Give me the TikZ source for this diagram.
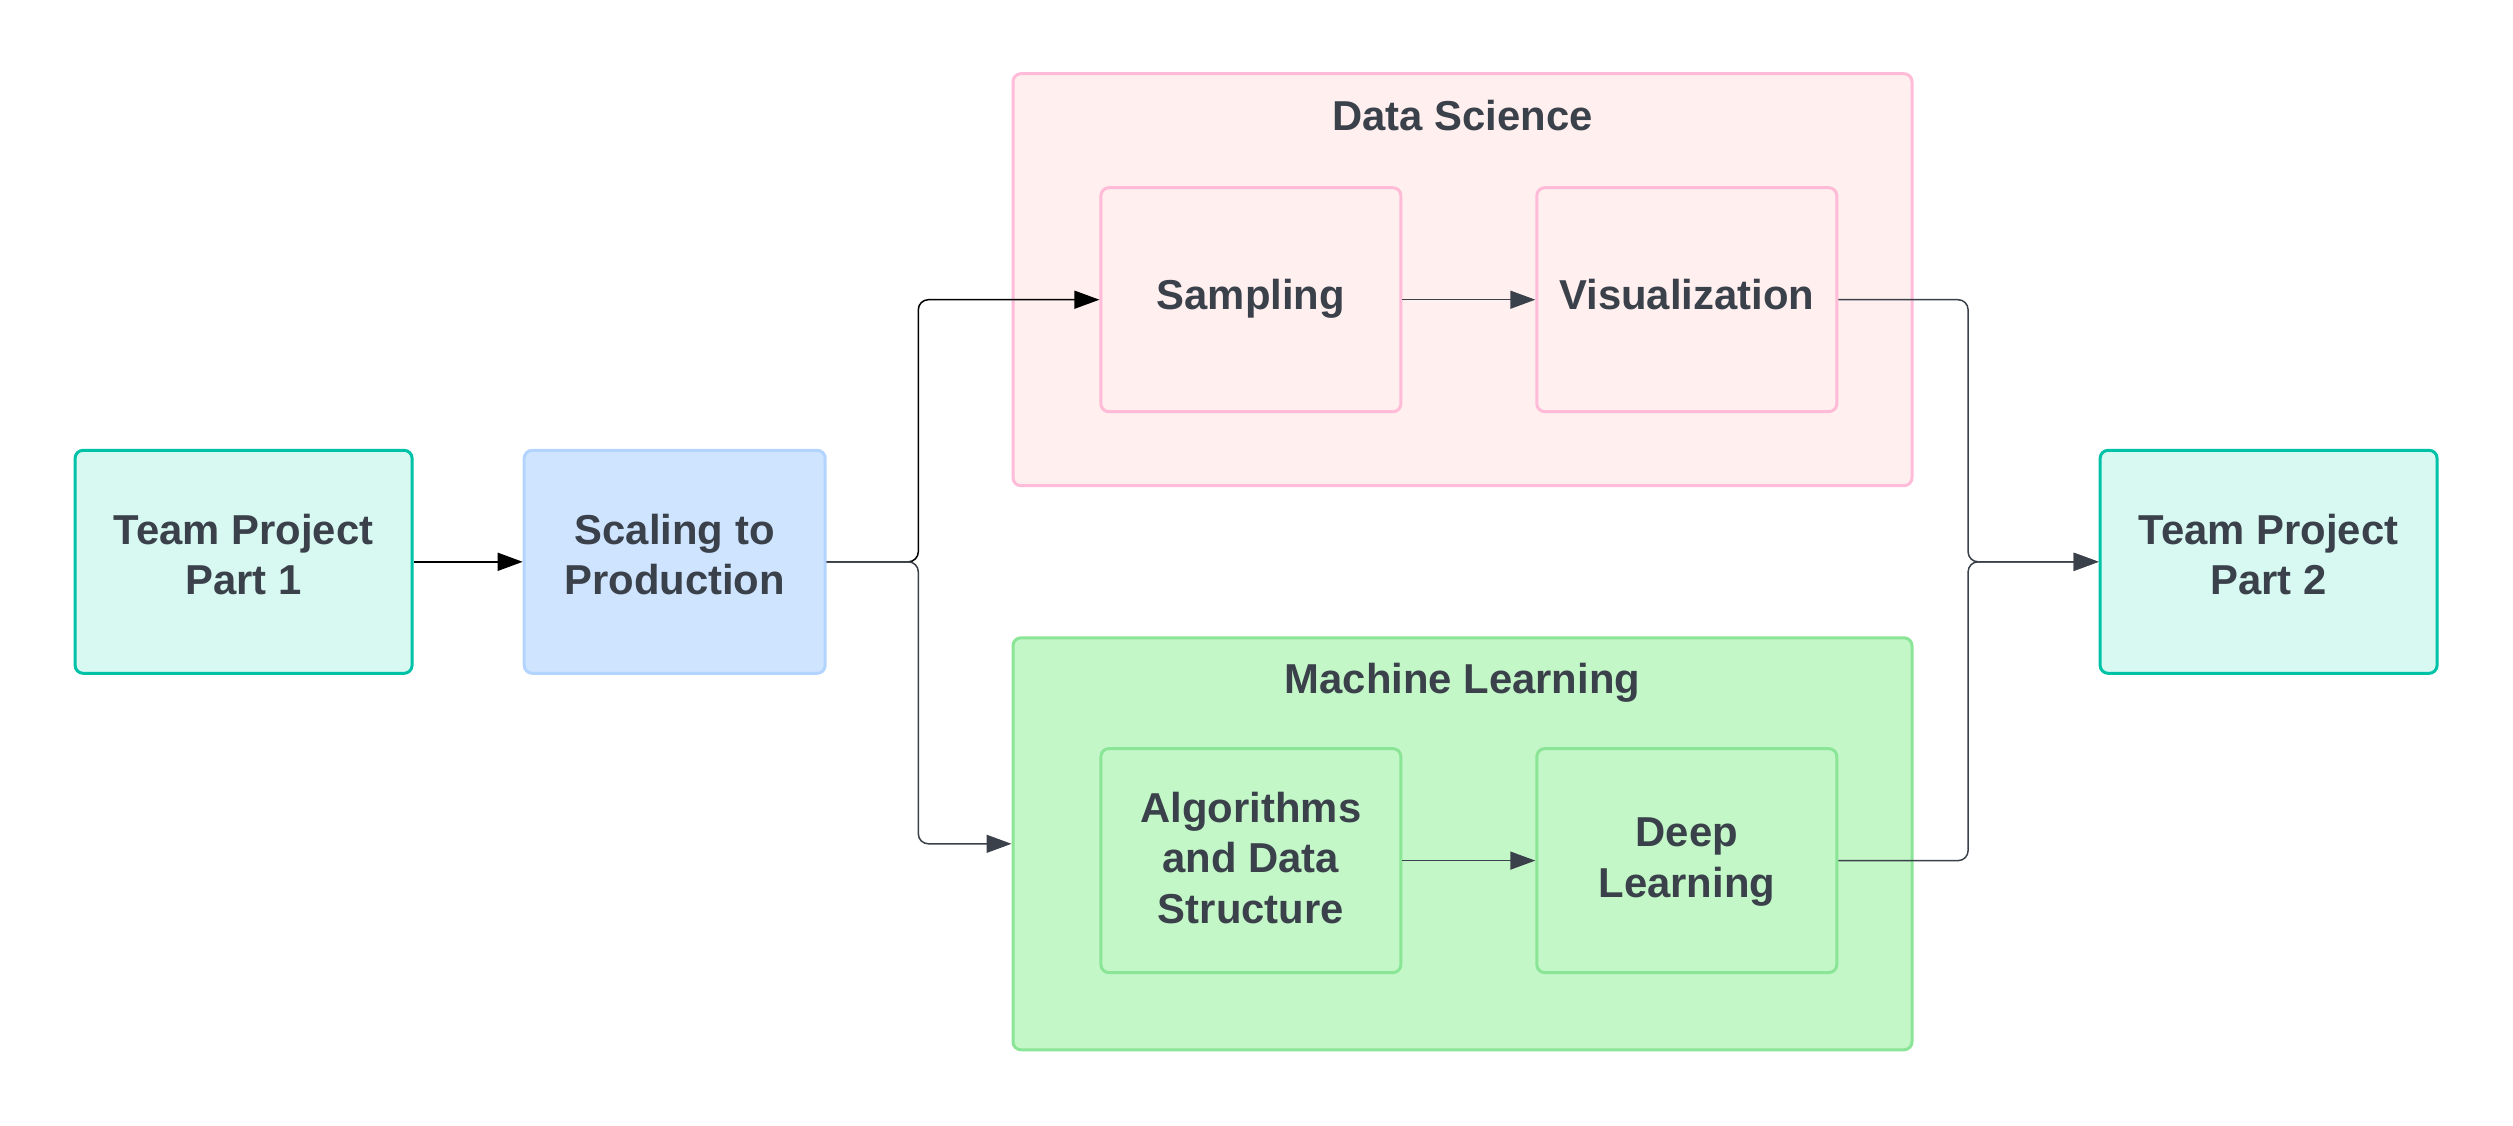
\documentclass[tikz,border=0pt]{standalone}
\usepackage{fontspec}
\setmainfont{Liberation Sans}
\usetikzlibrary{arrows.meta}
\definecolor{ink}{HTML}{3A414A}
\definecolor{tealfill}{HTML}{D7F9F2}
\definecolor{tealline}{HTML}{00C2A6}
\definecolor{bluefill}{HTML}{CFE4FF}
\definecolor{blueline}{HTML}{B2D4FF}
\definecolor{pinkfill}{HTML}{FFEFEF}
\definecolor{pinkline}{HTML}{FFBBD7}
\definecolor{greenfill}{HTML}{C3F7C8}
\definecolor{greenline}{HTML}{8BE596}
\begin{document}
\begin{tikzpicture}
  [box/.style={draw, rounded corners=0.08cm, line width=0.03cm, align=center, inner sep=0pt,
               text=ink, font=\fontsize{11.9}{14.4}\selectfont\bfseries,
               execute at begin node=\strut, execute at end node=\strut},
   team/.style={box, fill=tealfill, draw=tealline, minimum width=3.37cm, minimum height=2.23cm},
   scaling/.style={box, fill=bluefill, draw=blueline, minimum width=3.01cm, minimum height=2.23cm},
   dsgroup/.style={box, fill=pinkfill, draw=pinkline, minimum width=8.99cm, minimum height=4.12cm},
   mlgroup/.style={box, fill=greenfill, draw=greenline, minimum width=8.99cm, minimum height=4.12cm},
   dstopic/.style={box, fill=pinkfill, draw=pinkline, minimum width=3.0cm, minimum height=2.24cm},
   mltopic/.style={box, fill=greenfill, draw=greenline, minimum width=3.0cm, minimum height=2.24cm,
                   text depth=0.06cm},
   title/.style={text=ink, font=\fontsize{11.9}{14.4}\selectfont\bfseries, inner sep=0pt,
                 execute at begin node=\strut},
   link/.style={draw=ink, line width=0.015cm, rounded corners=0.1cm,
                -{Triangle[length=0.25cm, width=0.18cm]}}]
  \useasboundingbox (0,0) rectangle (25.13,-11.25);

  % groups
  \node[dsgroup] (ds) at (14.625,-2.797) {};
  \node[title] (dstitle) at (14.625,-1.20) {Data Science};
  \node[mlgroup] (ml) at (14.625,-8.438) {};
  \node[title] (mltitle) at (14.625,-6.83) {Machine Learning};

  % boxes
  \node[team] (part1) at (2.436,-5.618) {Team Project\\Part 1};
  \node[scaling] (scale) at (6.747,-5.618) {Scaling to\\Production};
  \node[dstopic] (samp) at (12.509,-2.997) {Sampling};
  \node[dstopic] (vis) at (16.868,-2.997) {Visualization};
  \node[mltopic] (algo) at (12.509,-8.606) {\raisebox{0pt}[\height][0pt]{}\vspace{-0.05cm}Algorithms\\and Data\\Structure};
  \node[mltopic] (deep) at (16.868,-8.606) {Deep\\Learning};
  \node[team] (part2) at (22.686,-5.618) {Team Project\\Part 2};

  \coordinate (split) at (9.183,-5.618);
  \coordinate (join) at (19.681,-5.618);

  % connectors
  \draw[link, draw=black] (part1.east) -- (scale.west);
  \draw[link, draw=black] (scale.east) -- (split) |- (samp.west);
  \draw[link] (scale.east) -- (split) |- (ml.west);
  \draw[link] (samp.east) -- (vis.west);
  \draw[link] (algo.east) -- (deep.west);
  \draw[link] (vis.east) -| (join) -- (part2.west);
  \draw[link] (deep.east) -| (join) -- (part2.west);
\end{tikzpicture}
\end{document}
